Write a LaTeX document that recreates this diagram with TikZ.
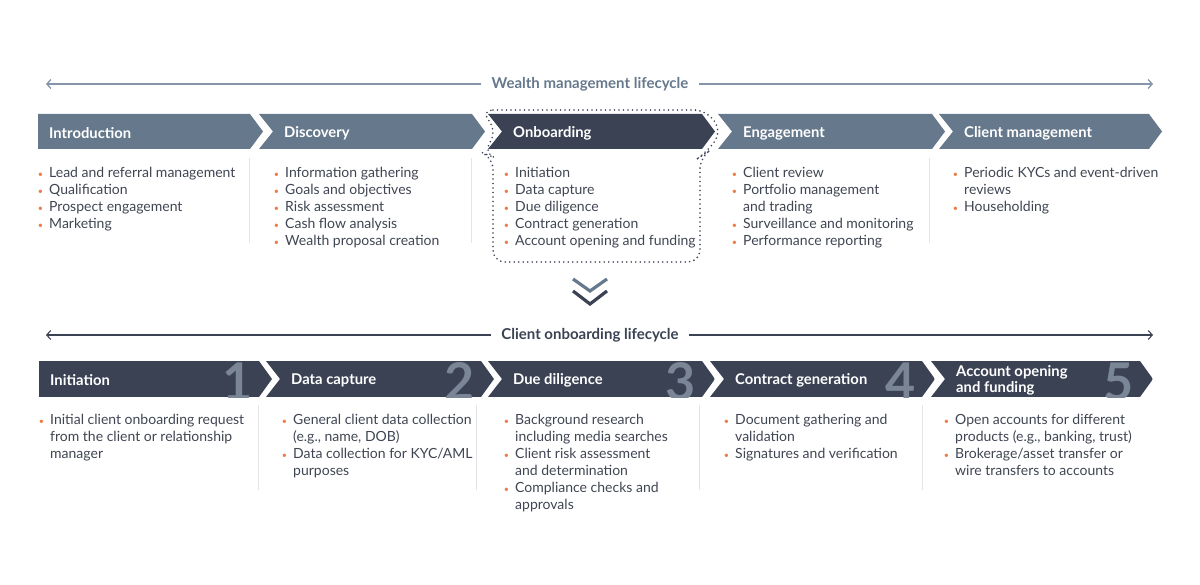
\documentclass[tikz,border=0pt]{standalone}
\usepackage{fontspec}
\setmainfont{Lato}
\usetikzlibrary{arrows.meta}
\definecolor{slate}{HTML}{66788C}
\definecolor{slateline}{HTML}{8695A7}
\definecolor{navy}{HTML}{3A4254}
\definecolor{numgray}{HTML}{7A8596}
\definecolor{ink}{HTML}{3F4552}
\definecolor{dotorange}{HTML}{EE7A45}
\definecolor{rulegray}{HTML}{E2E4E7}
\newcommand\bul{\strut\llap{\textcolor{dotorange}{\small\textbullet}\hspace{6pt}}}
\begin{document}
\begin{tikzpicture}[x=1pt, y=-1pt,
  phase/.style={font=\fontsize{14.8}{16}\selectfont\bfseries, text=white,
    anchor=west, align=left, inner sep=0pt},
  items/.style={font=\fontsize{14}{17}\selectfont, text=ink,
    anchor=north west, align=left, inner sep=0pt},
  divider/.style={draw=rulegray, line width=1pt},
  lifelabel/.style={font=\fontsize{15}{16}\selectfont\bfseries, inner xsep=10pt},
  lifeline/.style={line width=1.3pt, -{Straight Barb[length=4pt,width=9pt]}},
  stepnum/.style={font=\fontsize{52}{52}\selectfont\bfseries, text=numgray,
    anchor=base east, inner sep=0pt}]
\useasboundingbox (0,0) rectangle (1200,585);%

% wealth management lifecycle
\coordinate (wl) at (46,84);
\coordinate (wr) at (1153,84);
\node [lifelabel, text=slate] (wlabel) at (590,84) {Wealth management lifecycle};
\draw [lifeline, slateline] (wlabel.west) -- (wl);
\draw [lifeline, slateline] (wlabel.east) -- (wr);

\foreach \l/\r/\n/\c/\name/\title in {38/250/0/slate/intro/Introduction,
    259/472/14/slate/disc/Discovery, 488/702/14/navy/onb/Onboarding,
    718/932/14/slate/eng/Engagement, 939/1149/14/slate/cm/Client management}{%
  \fill [\c] (\l,114) -- (\r,114) -- (\r+13,131.5) -- (\r,149) -- (\l,149)
    -- (\l+\n,131.5) -- cycle;
  \node [phase] (\name) at (\l+11+\n,133) {\title};
}

% focus on onboarding
\draw [navy, line width=1.8pt, line cap=round, dash pattern=on 0pt off 4.5pt,
    rounded corners=12pt]
  (481,110) -- (706,110) -- (722,131.5) -- (706,153) -- (700,157)
  -- (700,262) -- (493,262) -- (493,157) -- (483,153) -- (497,131.5) -- cycle;

\node [items] (intro-list) at (49,165) {\bul Lead and referral management\\
  \bul Qualification\\ \bul Prospect engagement\\ \bul Marketing};
\node [items] (disc-list) at (285,165) {\bul Information gathering\\
  \bul Goals and objectives\\ \bul Risk assessment\\ \bul Cash flow analysis\\
  \bul Wealth proposal creation};
\node [items] (onb-list) at (515,165) {\bul Initiation\\ \bul Data capture\\
  \bul Due diligence\\ \bul Contract generation\\ \bul Account opening and funding};
\node [items] (eng-list) at (743,165) {\bul Client review\\
  \bul Portfolio management\\ and trading\\ \bul Surveillance and monitoring\\
  \bul Performance reporting};
\node [items] (cm-list) at (964,165) {\bul Periodic KYCs and event-driven\\
  reviews\\ \bul Householding};
\foreach \x in {249,471,929}
  \draw [divider] (\x,158) -- (\x,243);

% down marker
\draw [slate, line width=3.2pt] (573,279) -- (590,291) -- (607,279);
\draw [navy, line width=3.2pt] (573,291) -- (590,304) -- (607,291);

% client onboarding lifecycle
\coordinate (cl) at (46,335);
\coordinate (cr) at (1153,335);
\node [lifelabel, text=navy] (clabel) at (590,335) {Client onboarding lifecycle};
\draw [lifeline, navy, line width=1.1pt] (clabel.west) -- (cl);
\draw [lifeline, navy, line width=1.1pt] (clabel.east) -- (cr);

\foreach \l/\r/\n/\k/\name/\title in {39/259/0/1/init/Initiation,
    266/481/14/2/dcap/Data capture, 488/702/14/3/dd/Due diligence,
    710/922/14/4/cgen/Contract generation,
    931/1140/14/5/acct/{Account opening\\and funding}}{%
  \begin{scope}
    \clip (\l,361) -- (\r,361) -- (\r+13,379) -- (\r,397) -- (\l,397)
      -- (\l+\n,379) -- cycle;
    \fill [navy] (\l,361) rectangle (\r+13,397);
    \node [stepnum] (num\k) at (\r-6,400) {\k};
  \end{scope}
  \node [phase] (\name) at (\l+11+\n,380.5) {\title};
}

\node [items] (init-list) at (50,412) {\bul Initial client onboarding request\\
  from the client or relationship\\ manager};
\node [items] (dcap-list) at (293,412) {\bul General client data collection\\
  (e.g., name, DOB)\\ \bul Data collection for KYC/AML\\ purposes};
\node [items] (dd-list) at (515,412) {\bul Background research\\
  including media searches\\ \bul Client risk assessment\\ and determination\\
  \bul Compliance checks and\\ approvals};
\node [items] (cgen-list) at (735,412) {\bul Document gathering and\\
  validation\\ \bul Signatures and verification};
\node [items] (acct-list) at (955,412) {\bul Open accounts for different\\
  products (e.g., banking, trust)\\ \bul Brokerage/asset transfer or\\
  wire transfers to accounts};
\foreach \x in {258,476,699,922}
  \draw [divider] (\x,405) -- (\x,490);
\end{tikzpicture}
\end{document}
